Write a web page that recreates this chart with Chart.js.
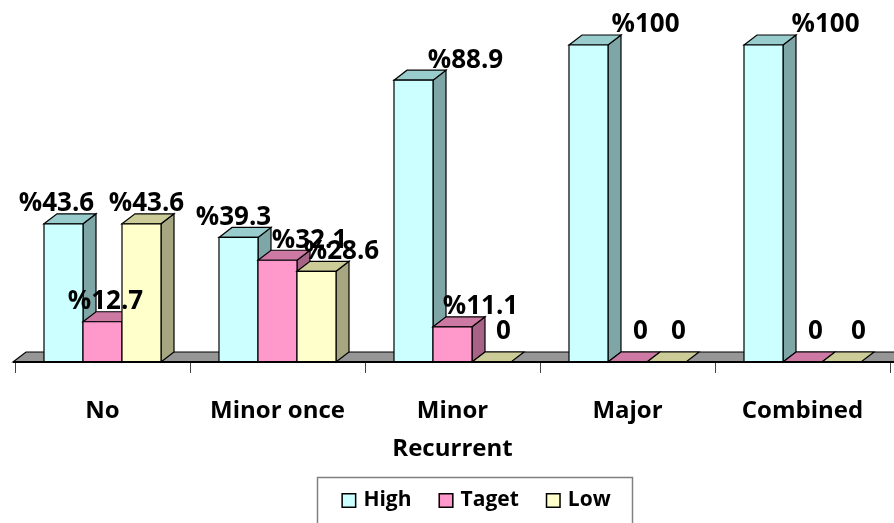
<!DOCTYPE html>
<html><head><meta charset="utf-8">
<script src="https://cdn.jsdelivr.net/npm/chart.js@4"></script>
<style>html,body{margin:0;padding:0;background:#fff}</style>
</head><body>
<canvas id="c" width="894" height="523"></canvas>
<script>
// ---- data ----
const categories = ['No', 'Minor once', ['Minor', 'Recurrent'], 'Major', 'Combined'];
const seriesNames = ['High', 'Taget', 'Low'];
const highValues = [43.6, 39.3, 88.9, 100, 100];
const tagetValues = [12.7, 32.1, 11.1, 0, 0];
const lowValues = [43.6, 28.6, 0, 0, 0];

// ---- styling ----
const FONT = '"Open Sans", Lato, sans-serif';
const fronts = ['#CCFFFF', '#FF99CC', '#FFFFCC'];
const tops = ['#99CCCC', '#CC7AA3', '#CCCC99'];
const sides = ['#7FA6A6', '#A66385', '#A6A680'];
// horizontal nudges of the value labels (per series, per category)
const labelNudge = [[-7, -5, 52, 57, 62], [3, 32, 28, 13, 13], [5, 25, 12, 12, 17]];

const DX = 13, DY = 10;

function poly(ctx, pts, fill) {
  ctx.beginPath();
  ctx.moveTo(pts[0][0], pts[0][1]);
  for (let i = 1; i < pts.length; i++) ctx.lineTo(pts[i][0], pts[i][1]);
  ctx.closePath();
  ctx.fillStyle = fill;
  ctx.fill();
  ctx.stroke();
}

const bars3d = {
  id: 'bars3d',
  beforeDatasetsDraw(chart) {
    const ctx = chart.ctx;
    const ca = chart.chartArea;
    const yb = ca.bottom;
    ctx.save();
    ctx.strokeStyle = '#000';
    ctx.lineWidth = 1.2;
    ctx.lineJoin = 'miter';
    // floor
    poly(ctx, [[13, yb], [13 + DX, yb - DY], [894 + DX, yb - DY], [894, yb]], '#969696');
    const n = chart.data.labels.length;
    for (let i = 0; i < n; i++) {
      chart.data.datasets.forEach((ds, d) => {
        const el = chart.getDatasetMeta(d).data[i];
        const x1 = el.x - el.width / 2, x2 = el.x + el.width / 2;
        const yt = el.y, base = el.base;
        if (base - yt > 0.5) {
          poly(ctx, [[x2, yt], [x2 + DX, yt - DY], [x2 + DX, base - DY], [x2, base]], sides[d]);
        }
        poly(ctx, [[x1, yt], [x1 + DX, yt - DY], [x2 + DX, yt - DY], [x2, yt]], tops[d]);
        if (base - yt > 0.5) {
          ctx.beginPath();
          ctx.rect(x1, yt, x2 - x1, base - yt);
          ctx.fillStyle = fronts[d];
          ctx.fill();
          ctx.stroke();
        }
      });
    }
    // axis front edge
    ctx.lineWidth = 2.2;
    ctx.beginPath();
    ctx.moveTo(13, yb);
    ctx.lineTo(894, yb);
    ctx.stroke();
    ctx.restore();
    return false;
  },
  afterDraw(chart) {
    const ctx = chart.ctx;
    ctx.save();
    // value labels
    ctx.font = 'bold 26px ' + FONT;
    ctx.fillStyle = '#000';
    ctx.textAlign = 'center';
    ctx.textBaseline = 'middle';
    chart.data.datasets.forEach((ds, d) => {
      chart.getDatasetMeta(d).data.forEach((el, i) => {
        const v = ds.data[i];
        const txt = v === 0 ? '0' : '%' + v;
        const dy = v === 0 ? -30 : -20;
        ctx.fillText(txt, el.x + labelNudge[d][i], el.y + dy);
      });
    });
    // legend
    ctx.font = 'bold 21px ' + FONT;
    ctx.textAlign = 'left';
    const box = 15, gap = 7, spacing = 27;
    const widths = chart.data.datasets.map(ds => box + gap + ctx.measureText(ds.label).width);
    const total = widths.reduce((a, b) => a + b, 0) + spacing * (widths.length - 1);
    let x = 476 - total / 2;
    ctx.strokeStyle = '#808080';
    ctx.lineWidth = 1.5;
    ctx.strokeRect(317.5, 477.5, 315, 60);
    chart.data.datasets.forEach((ds, d) => {
      ctx.fillStyle = fronts[d];
      ctx.fillRect(x, 493, box, box);
      ctx.strokeStyle = '#000';
      ctx.lineWidth = 1.5;
      ctx.strokeRect(x + 0.75, 493.75, box - 1.5, box - 1.5);
      ctx.fillStyle = '#000';
      ctx.fillText(ds.label, x + box + gap, 500);
      x += widths[d] + spacing;
    });
    ctx.restore();
  }
};

const valueSets = [highValues, tagetValues, lowValues];
new Chart(document.getElementById('c'), {
  type: 'bar',
  data: {
    labels: categories,
    datasets: seriesNames.map((name, d) => ({
      label: name,
      data: valueSets[d],
      backgroundColor: fronts[d],
      borderColor: '#000',
      borderWidth: 1,
      categoryPercentage: 0.6686,
      barPercentage: 1
    }))
  },
  options: {
    responsive: false,
    animation: false,
    devicePixelRatio: 1,
    layout: { padding: { top: 45, left: 15, right: 4, bottom: 0 } },
    plugins: { legend: { display: false }, tooltip: { enabled: false } },
    scales: {
      y: { display: false, min: 0, max: 100 },
      x: {
        grid: { display: true, drawOnChartArea: false, drawTicks: true, tickLength: 11, color: '#444', offset: true },
        border: { display: true, color: '#000', width: 2 },
        ticks: {
          color: '#000',
          font: { family: FONT, weight: 'bold', size: 24, lineHeight: 1.55 },
          padding: 20,
          maxRotation: 0,
          autoSkip: false
        },
        afterFit: s => { s.height = 161; }
      }
    }
  },
  plugins: [bars3d]
});
</script>
</body></html>
